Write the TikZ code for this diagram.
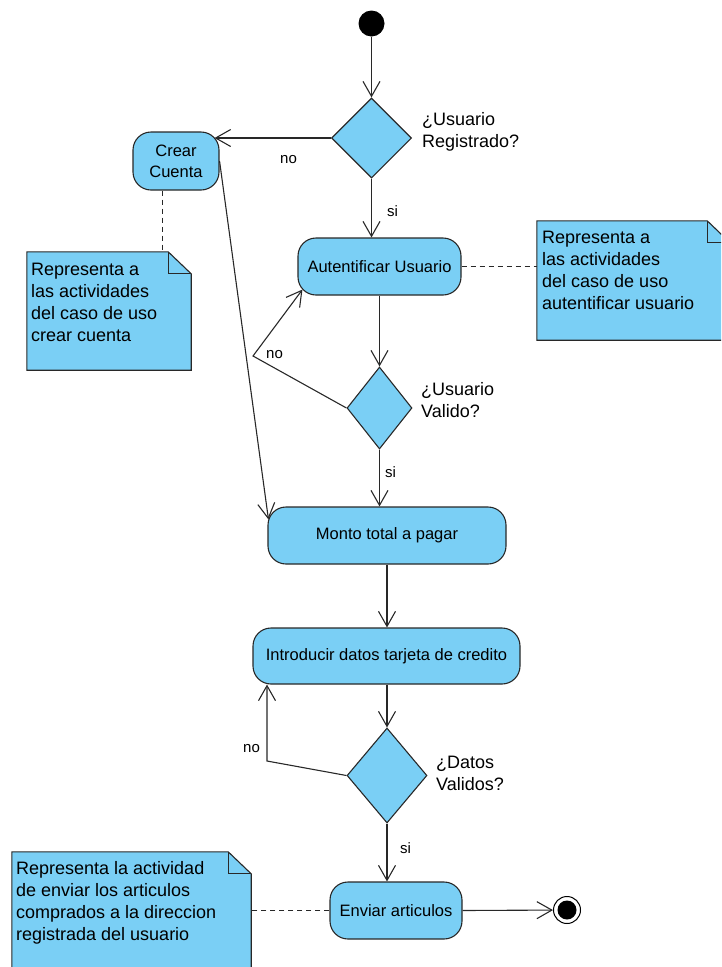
\documentclass[tikz,border=0pt]{standalone}
\usepackage{fontspec}
\setmainfont{Liberation Sans}
\usetikzlibrary{shapes.geometric,arrows.meta,calc}
\definecolor{umlfill}{RGB}{122,207,245}
\definecolor{umlline}{RGB}{40,40,40}

\begin{document}
\begin{tikzpicture}[x=1pt,y=-1pt,
  activity/.style={draw=umlline, fill=umlfill, rounded corners=18pt, line width=1.1pt,
    inner sep=0pt, align=center, font=\fontsize{16.5}{21}\selectfont},
  decision/.style={draw=umlline, fill=umlfill, diamond, line width=1.1pt, inner sep=0pt},
  flow/.style={draw=umlline, line width=1.1pt,
    -{Straight Barb[length=15pt,width=17pt,line width=1.1pt]}},
  anchorline/.style={draw=umlline, line width=1pt, dash pattern=on 5pt off 4pt},
  notearea/.style={draw=none, inner sep=0pt},
  notebody/.style={draw=umlline, fill=umlfill, line width=1.1pt},
  notefold/.style={draw=umlline, line width=1.1pt},
  % multi-line texts are placed by the baseline of their last line
  notetext/.style={anchor=base west, inner sep=0pt, align=left, font=\fontsize{18}{22}\selectfont},
  dlabel/.style={anchor=base west, inner sep=0pt, align=left, font=\fontsize{18}{22}\selectfont},
  guard/.style={anchor=base west, inner sep=0pt, font=\fontsize{15}{18}\selectfont},
]
\useasboundingbox (0,0) rectangle (721,967);
\clip (0,0) rectangle (721,967);

% initial and final states
\node[circle, fill=black, minimum size=26pt, inner sep=0pt] (start) at (371.5,23.5) {};
\node[circle, draw=black, fill=white, line width=1pt, minimum size=27pt, inner sep=0pt] (final) at (567,910) {};
\fill[black] (final.center) circle (9.5pt);

% decisions
\node[decision, minimum width=80pt, minimum height=80pt] (d1) at (371.5,138) {};
\node[decision, minimum width=65pt, minimum height=82pt] (d2) at (379.5,408) {};
\node[decision, minimum width=80pt, minimum height=95pt] (d3) at (387,775.5) {};

% activities
\node[activity, minimum width=86pt, minimum height=58pt] (crear) at (176,161) {Crear\\Cuenta};
\node[activity, minimum width=163pt, minimum height=57pt] (autent) at (379.5,266.5) {Autentificar Usuario};
\node[activity, minimum width=238pt, minimum height=57pt] (monto) at (387,535.5) {Monto total a pagar};
\node[activity, minimum width=267pt, minimum height=56pt] (intro) at (386.5,656) {Introducir datos tarjeta de credito};
\node[activity, minimum width=132pt, minimum height=57pt] (enviar) at (396,910.5) {Enviar articulos};

% notes
\node[notearea, minimum width=193pt, minimum height=119pt] (n1) at (633.5,280.5) {};
\node[notearea, minimum width=164pt, minimum height=118pt] (n2) at (109,311) {};
\node[notearea, minimum width=239pt, minimum height=138pt] (n3) at (131.5,921) {};
\foreach \n in {n1,n2,n3} {
  \path[notebody] (\n.north west) -- ([xshift=-23pt]\n.north east)
    -- ([yshift=-22pt]\n.north east) -- (\n.south east) -- (\n.south west) -- cycle;
  \path[notefold] ([xshift=-23pt]\n.north east) -- ([xshift=-23pt,yshift=-22pt]\n.north east)
    -- ([yshift=-22pt]\n.north east);
}
\node[notetext] (t1) at (542,309) {Representa a\\las actividades\\del caso de uso\\autentificar usuario};
\node[notetext] (t2) at (31,341) {Representa a\\las actividades\\del caso de uso\\crear cuenta};
\node[notetext] (t3) at (16,940) {Representa la actividad\\de enviar los articulos\\comprados a la direccion\\registrada del usuario};

% decision labels
\node[dlabel] (q1) at (422,147) {¿Usuario\\Registrado?};
\node[dlabel] (q2) at (421,417) {¿Usuario\\Valido?};
\node[dlabel] (q3) at (436,790) {¿Datos\\Validos?};

% control flows
\draw[flow] (start) -- (d1);
\draw[flow] (d1.west) -- ($(crear.east |- d1.west)+(-5,0)$);
\draw[flow] (d1.south) -- (d1.south |- autent.north);
\draw[flow] (autent.south) -- (d2.north);
\coordinate (k1) at (253,356);
\draw[flow] (d2.west) -- (k1) -- ($(autent.south west)+(5,-6)$);
\draw[flow] (d2.south) -- (d2.south |- monto.north);
\draw[flow] (crear.east) -- ($(monto.north west)+(1,13)$);
\draw[flow] (monto.south) -- (monto.south |- intro.north);
\draw[flow] (intro.south -| d3.north) -- (d3.north);
\coordinate (k2) at (267,761);
\draw[flow] (d3.west) -- (k2) -- (k2 |- intro.south);
\draw[flow] (d3.south) -- (d3.south |- enviar.north);
\draw[flow] (enviar.east) -- (final);

% guards
\node[guard] (g1) at (280,163) {no};
\node[guard] (g2) at (387,216) {si};
\node[guard] (g3) at (266,358) {no};
\node[guard] (g4) at (385,477) {si};
\node[guard] (g5) at (243,752) {no};
\node[guard] (g6) at (400,853) {si};

% note anchors
\coordinate (c1) at ($(crear.south)+(-14,0)$);
\draw[anchorline] (c1) -- (c1 |- n2.north);
\draw[anchorline] (autent.east) -- (autent.east -| n1.west);
\draw[anchorline] (enviar.west) -- (enviar.west -| n3.east);
\end{tikzpicture}
\end{document}
